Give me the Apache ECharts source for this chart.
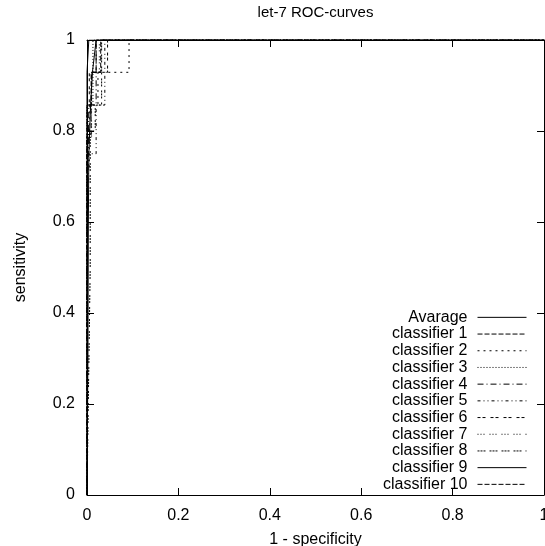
<!DOCTYPE html>
<html>
<head>
<meta charset="utf-8">
<script src="https://cdn.jsdelivr.net/npm/echarts@6/dist/echarts.min.js"></script>
<style>html,body{margin:0;padding:0;background:#fff}#c{width:545px;height:546px}</style>
</head>
<body>
<div id="c"></div>
<script>
var titleText = 'let-7 ROC-curves';
var xName = '1 - specificity';
var yName = 'sensitivity';
var seriesNames = ['Avarage','classifier 1','classifier 2','classifier 3','classifier 4','classifier 5','classifier 6','classifier 7','classifier 8','classifier 9','classifier 10'];

var avgCurve = [[0,0],[0.002,0.3],[0.003,0.6],[0.004,0.75],[0.008,0.86],[0.012,0.93],[0.02,1],[1,1]];
var c1Curve = [[0,0],[0,0.786],[0.009,0.786],[0.009,0.929],[0.03,0.929],[0.03,1],[1,1]];
var c2Curve = [[0,0],[0,0.714],[0.005,0.714],[0.005,0.857],[0.024,0.857],[0.024,0.929],[0.092,0.929],[0.092,1],[1,1]];
var c3Curve = [[0,0],[0,0.857],[0.013,0.857],[0.013,1],[1,1]];
var c4Curve = [[0,0],[0,0.5],[0.004,0.5],[0.004,0.857],[0.02,0.857],[0.02,1],[1,1]];
var c5Curve = [[0,0],[0,0.75],[0.02,0.75],[0.02,0.857],[0.039,0.857],[0.039,1],[1,1]];
var c6Curve = [[0,0],[0,0.857],[0.005,0.857],[0.005,0.929],[0.045,0.929],[0.045,1],[1,1]];
var c7Curve = [[0,0],[0,0.786],[0.01,0.786],[0.01,0.929],[0.027,0.929],[0.027,1],[1,1]];
var c8Curve = [[0,0],[0.007,0.5],[0.007,0.8],[0.018,0.8],[0.018,0.857],[0.032,0.857],[0.032,1],[1,1]];
var c9Curve = [[0,0],[0,0.929],[0.004,0.929],[0.004,1],[1,1]];
var c10Curve = [[0,0],[0,0.857],[0.01,0.857],[0.01,0.929],[0.02,0.929],[0.02,1],[1,1]];
var curves = [avgCurve,c1Curve,c2Curve,c3Curve,c4Curve,c5Curve,c6Curve,c7Curve,c8Curve,c9Curve,c10Curve];

var dashes = ['solid',[5,2],[2,4],[1,2],[6,3,1,3],[3,3,1,3,1,3],[3,2,3,5],[1,2,1,2,1,5],[2,1,2,1,2,4],'solid',[5,2]];

var font = 'Liberation Sans, Arial, sans-serif';
var chart = echarts.init(document.getElementById('c'), null, {renderer:'canvas'});

var series = seriesNames.map(function(n,i){
  return {
    name:n, type:'line', data:curves[i], symbol:'none', animation:false,
    lineStyle:{color:'#000', width:1, type:dashes[i]},
    itemStyle:{color:'#000'}
  };
});

var tickCommon = {show:true, inside:true, length:7, lineStyle:{color:'#000', width:1}};
var lineCommon = {show:true, onZero:false, lineStyle:{color:'#000', width:1}};

chart.setOption({
  backgroundColor:'#fff',
  animation:false,
  grid:{left:87, right:1, top:40, bottom:51, containLabel:false, outerBoundsMode:'none'},
  legend:{
    orient:'vertical', right:18, top:309, align:'right', padding:0,
    itemWidth:49, itemHeight:14, itemGap:0,
    itemStyle:{opacity:0},
    lineStyle:{width:1},
    textStyle:{fontFamily:font, fontSize:16, color:'#000', lineHeight:16.7, padding:[0,5,0,0]},
    data:seriesNames,
    selectedMode:false
  },
  xAxis:[{
    type:'value', min:0, max:1, interval:0.2, position:'bottom',
    axisLine:lineCommon, axisTick:tickCommon, splitLine:{show:false},
    axisLabel:{fontFamily:font, fontSize:16, color:'#000', margin:13,
      formatter:function(v){return String(Math.round(v*10)/10);}},
    name:xName, nameLocation:'middle', nameGap:37,
    nameTextStyle:{fontFamily:font, fontSize:16, color:'#000'}
  },{
    type:'value', min:0, max:1, interval:0.2, position:'top',
    axisLine:lineCommon, axisTick:tickCommon, splitLine:{show:false},
    axisLabel:{show:false},
    name:titleText, nameLocation:'middle', nameGap:20,
    nameTextStyle:{fontFamily:font, fontSize:15, color:'#000'}
  }],
  yAxis:[{
    type:'value', min:0, max:1, interval:0.2, position:'left',
    axisLine:lineCommon, axisTick:tickCommon, splitLine:{show:false},
    axisLabel:{fontFamily:font, fontSize:16, color:'#000', margin:12,
      formatter:function(v){return String(Math.round(v*10)/10);}},
    name:yName, nameLocation:'middle', nameGap:58, nameRotate:90,
    nameTextStyle:{fontFamily:font, fontSize:16, color:'#000'}
  },{
    type:'value', min:0, max:1, interval:0.2, position:'right',
    axisLine:lineCommon, axisTick:tickCommon, splitLine:{show:false},
    axisLabel:{show:false}
  }],
  series:series
});
</script>
</body>
</html>
